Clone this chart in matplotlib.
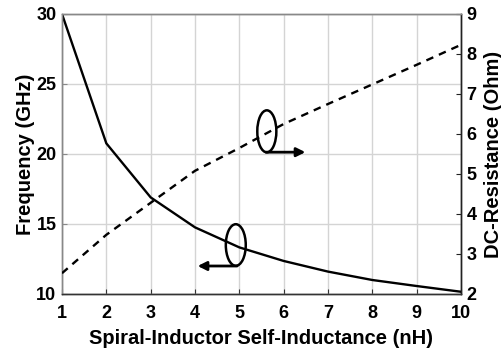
import matplotlib
matplotlib.use("Agg")
import matplotlib.pyplot as plt
from matplotlib.patches import Ellipse

# Self-inductance sweep of the spiral inductor
inductance_nh = [1, 2, 3, 4, 5, 6, 7, 8, 9, 10]
# Self-resonance frequency (left axis)
frequency_ghz = [30.0, 20.76, 16.9, 14.76, 13.33, 12.36, 11.6, 11.0, 10.57, 10.16]
# DC series resistance (right axis)
dc_resistance_ohm = [2.52, 3.48, 4.28, 5.08, 5.65, 6.25, 6.75, 7.24, 7.73, 8.23]

x_ticks = list(range(1, 11))
freq_ticks = [10, 15, 20, 25, 30]
res_ticks = list(range(2, 10))

plt.rcParams['font.family'] = ['Liberation Sans', 'DejaVu Sans']
plt.rcParams['font.weight'] = 'bold'

fig = plt.figure(figsize=(5.02, 3.52), dpi=100)
ax = fig.add_axes([62 / 502, 58 / 352, 399 / 502, 280 / 352])
ax2 = ax.twinx()

ax.plot(inductance_nh, frequency_ghz, color='black', lw=1.7, solid_joinstyle='miter', zorder=3)
ax2.plot(inductance_nh, dc_resistance_ohm, color='black', lw=1.7, dashes=(3.2, 2.6), zorder=3)

ax.set_xlim(1, 10)
ax.set_ylim(10, 30)
ax2.set_ylim(2, 9)
ax.set_xticks(x_ticks)
ax.set_yticks(freq_ticks)
ax2.set_yticks(res_ticks)

ax.grid(True, color='#d4d4d4', lw=1.0)
ax.set_axisbelow(True)

tick_kw = dict(direction='in', length=3.5, width=0.8, labelsize=13)
ax.tick_params(axis='x', pad=8, colors='#333333', labelcolor='black', **tick_kw)
ax.tick_params(axis='y', pad=4, colors='#888888', labelcolor='black', **tick_kw)
ax2.tick_params(axis='y', pad=4, colors='#222222', labelcolor='black', **tick_kw)
for lab in ax.get_xticklabels() + ax.get_yticklabels() + ax2.get_yticklabels():
    lab.set_fontweight('bold')

for side, col in (('left', '#888888'), ('top', '#888888'), ('bottom', '#333333'), ('right', '#222222')):
    ax.spines[side].set_color(col)
    ax2.spines[side].set_color(col)
    ax.spines[side].set_linewidth(1.0)
    ax2.spines[side].set_linewidth(1.0)

ax.set_xlabel('Spiral-Inductor Self-Inductance (nH)', fontsize=14.5, fontweight='bold', labelpad=5)
ax.set_ylabel('Frequency (GHz)', fontsize=14.5, fontweight='bold', labelpad=1)
ax2.set_ylabel('DC-Resistance (Ohm)', fontsize=14.5, fontweight='bold', labelpad=5)

# Curve markers: ellipse around each trace with an arrow toward its axis
ax.add_patch(Ellipse((5.62, 21.62), 0.43, 3.0, fill=False, ec='black', lw=1.8, zorder=4))
ax.annotate('', xy=(6.49, 20.13), xytext=(5.6, 20.13),
            arrowprops=dict(arrowstyle='-|>', lw=2.0, color='black',
                            mutation_scale=13, shrinkA=0, shrinkB=0), zorder=4)
ax.add_patch(Ellipse((4.92, 13.5), 0.45, 2.97, fill=False, ec='black', lw=1.8, zorder=4))
ax.annotate('', xy=(4.06, 12.0), xytext=(4.95, 12.0),
            arrowprops=dict(arrowstyle='-|>', lw=2.0, color='black',
                            mutation_scale=13, shrinkA=0, shrinkB=0), zorder=4)

fig.savefig('out.png', dpi=100)
